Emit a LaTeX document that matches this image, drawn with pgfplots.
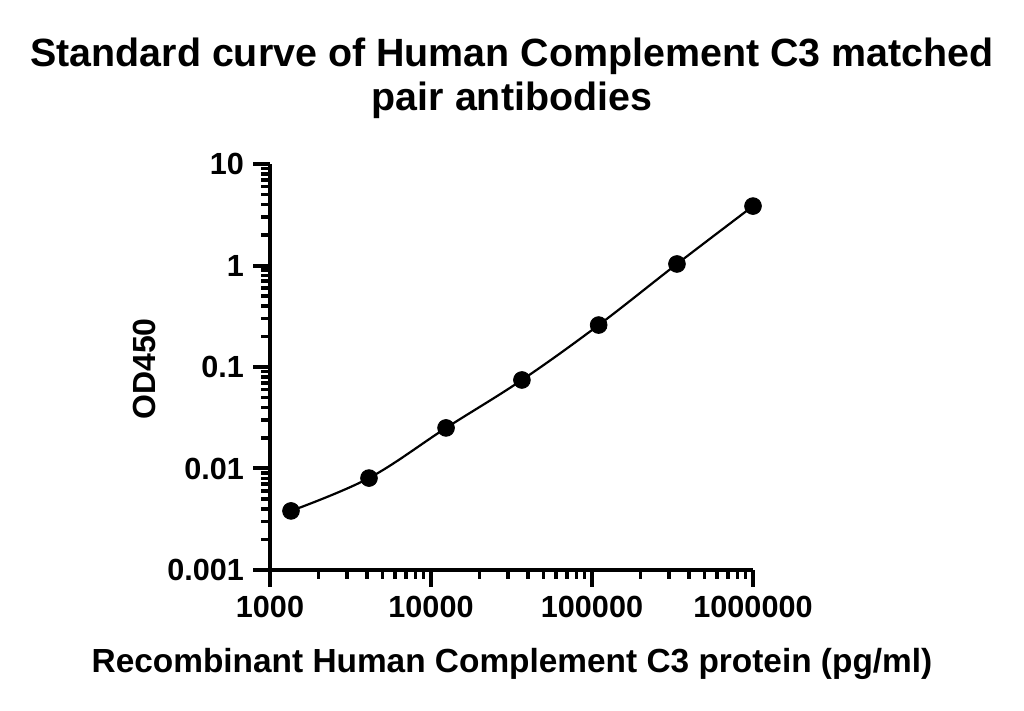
\documentclass[border=0pt]{standalone}
\usepackage{fontspec}
\setmainfont{Liberation Sans}
\usepackage{pgfplots}
\pgfplotsset{compat=1.18}
\begin{document}
\begin{tikzpicture}[x=0.5pt,y=0.5pt]
\useasboundingbox (0,0) rectangle (1024,711);
\begin{axis}[
  at={(135pt,70.5pt)}, anchor=south west,
  scale only axis, width=241.5pt, height=203pt,
  xmode=log, ymode=log,
  xmin=1000, xmax=1000000, ymin=0.001, ymax=10,
  axis x line*=bottom, axis y line*=left,
  axis line style={line width=2pt,-},
  tick align=outside,
  major tick length=8.5pt, minor tick length=4.5pt,
  tick style={line width=2pt,black},
  minor tick style={line width=1.8pt,black},
  xtick={1000,10000,100000,1000000},
  xticklabels={1000,10000,100000,1000000},
  ytick={0.001,0.01,0.1,1,10},
  yticklabels={0.001,0.01,0.1,1,10},
  ticklabel style={font=\fontsize{15.3pt}{18pt}\selectfont\bfseries},
  xticklabel style={yshift=-1pt},
  yticklabel style={xshift=-1pt},
  clip=false,
]
\addplot[black, line width=1.1pt, smooth, tension=0.6] coordinates {
(1350,0.00382) (4120,0.00805) (12400,0.0251) (36700,0.0745) (110000,0.259) (337000,1.035) (1000000,3.85)
};
\addplot[only marks, mark=*, mark size=4.2pt, black] coordinates {
(1350,0.00382) (4120,0.00805) (12400,0.0251) (36700,0.0745) (110000,0.259) (337000,1.035) (1000000,3.85)
};
\end{axis}
\node[anchor=base, font=\fontsize{19.7pt}{23pt}\selectfont\bfseries] at (512,644.5) {Standard curve of Human Complement C3 matched};
\node[anchor=base, font=\fontsize{19.7pt}{23pt}\selectfont\bfseries] at (512,600) {pair antibodies};
\node[anchor=base, font=\fontsize{16.7pt}{20pt}\selectfont\bfseries] at (512,38) {Recombinant Human Complement C3 protein (pg/ml)};
\node[anchor=base, rotate=90, font=\fontsize{16pt}{20pt}\selectfont\bfseries] at (155,342) {OD450};
\end{tikzpicture}
\end{document}
